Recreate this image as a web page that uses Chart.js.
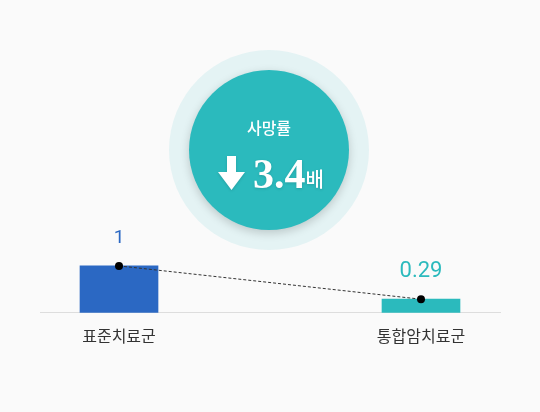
<!DOCTYPE html>
<html>
<head>
<meta charset="utf-8">
<script src="https://cdn.jsdelivr.net/npm/chart.js@4/dist/chart.umd.min.js"></script>
<style>
  html,body{ margin:0; padding:0; background:#fafafa; }
  #wrap{ width:540px; height:412px; position:relative; }
</style>
</head>
<body>
<div id="wrap"><canvas id="chart"></canvas></div>
<script>
  const categories = ['표준치료군', '통합암치료군'];
  const mortality = [1, 0.29];
  const valueLabels = ['1', '0.29'];
  const barColors = ['#2b68c3', '#2bbabd'];
  const badgeTitle = '사망률';
  const badgeValue = '3.4';
  const badgeUnit = '배';

  // Circle badge + arrow behind the bars
  const badgePlugin = {
    id: 'badge',
    beforeDatasetsDraw(chart){
      const ctx = chart.ctx;
      const cx = 269, cy = 150;
      ctx.save();
      ctx.beginPath();
      ctx.arc(cx, cy, 100, 0, Math.PI * 2);
      ctx.fillStyle = '#e4f3f4';
      ctx.fill();

      ctx.shadowColor = 'rgba(0,0,0,0.18)';
      ctx.shadowBlur = 10;
      ctx.shadowOffsetY = 3;
      ctx.beginPath();
      ctx.arc(cx, cy, 80, 0, Math.PI * 2);
      ctx.fillStyle = '#2bbabd';
      ctx.fill();
      ctx.shadowColor = 'transparent';

      ctx.fillStyle = '#ffffff';
      ctx.textAlign = 'center';
      ctx.textBaseline = 'middle';
      ctx.font = '500 16px "Noto Sans CJK KR", "Noto Sans", sans-serif';
      ctx.fillText(badgeTitle, cx, 128);

      // down arrow
      ctx.shadowColor = 'rgba(0,0,0,0.15)';
      ctx.shadowBlur = 3;
      ctx.shadowOffsetY = 1;
      ctx.beginPath();
      ctx.moveTo(227, 156);
      ctx.lineTo(236, 156);
      ctx.lineTo(236, 172);
      ctx.lineTo(245, 172);
      ctx.lineTo(231.5, 190);
      ctx.lineTo(218, 172);
      ctx.lineTo(227, 172);
      ctx.closePath();
      ctx.fill();

      ctx.textAlign = 'left';
      ctx.textBaseline = 'alphabetic';
      ctx.font = 'bold 42px "Liberation Serif", "DejaVu Serif", serif';
      ctx.fillText(badgeValue, 253, 188);
      const w = ctx.measureText(badgeValue).width;
      ctx.font = '500 20px "Noto Sans CJK KR", sans-serif';
      ctx.fillText(badgeUnit, 253 + w, 187);
      ctx.restore();
    }
  };

  // value labels above each bar
  const valuePlugin = {
    id: 'values',
    afterDatasetsDraw(chart){
      const ctx = chart.ctx;
      const meta = chart.getDatasetMeta(1);
      ctx.save();
      ctx.textAlign = 'center';
      ctx.textBaseline = 'middle';
      meta.data.forEach((bar, i) => {
        ctx.fillStyle = barColors[i];
        ctx.font = (i === 0 ? '19px' : '22px') + ' Roboto, "Noto Sans", sans-serif';
        ctx.fillText(valueLabels[i], bar.x, bar.y - 28);
      });
      ctx.restore();
    }
  };

  const points = mortality.map((v, i) => ({ x: i, y: v }));

  new Chart(document.getElementById('chart'), {
    data: {
      datasets: [{
        type: 'line',
        data: points,
        borderColor: '#333333',
        borderWidth: 1,
        borderDash: [3, 2],
        pointRadius: 4,
        pointBackgroundColor: '#000000',
        pointBorderWidth: 0,
        order: 0
      }, {
        type: 'bar',
        data: points,
        backgroundColor: barColors,
        barThickness: 78,
        order: 1
      }]
    },
    options: {
      responsive: true,
      maintainAspectRatio: false,
      animation: false,
      events: [],
      layout: { padding: { top: 219, left: 40, right: 40, bottom: 52 } },
      plugins: { legend: { display: false }, tooltip: { enabled: false } },
      scales: {
        x: {
          type: 'linear',
          offset: false,
          min: -0.2616,
          max: 1.2616,
          grid: { display: false, drawTicks: false, offset: false },
          border: { display: true, color: '#dddddd', width: 1 },
          afterBuildTicks(axis){ axis.ticks = categories.map((c, i) => ({ value: i })); },
          ticks: {
            autoSkip: false,
            maxRotation: 0,
            padding: 14,
            color: '#333333',
            font: { size: 16, family: '"Noto Sans CJK KR", sans-serif' },
            callback: (v) => categories[v]
          }
        },
        y: { display: false, min: 0, max: 2 }
      }
    },
    plugins: [badgePlugin, valuePlugin]
  });
</script>
</body>
</html>
